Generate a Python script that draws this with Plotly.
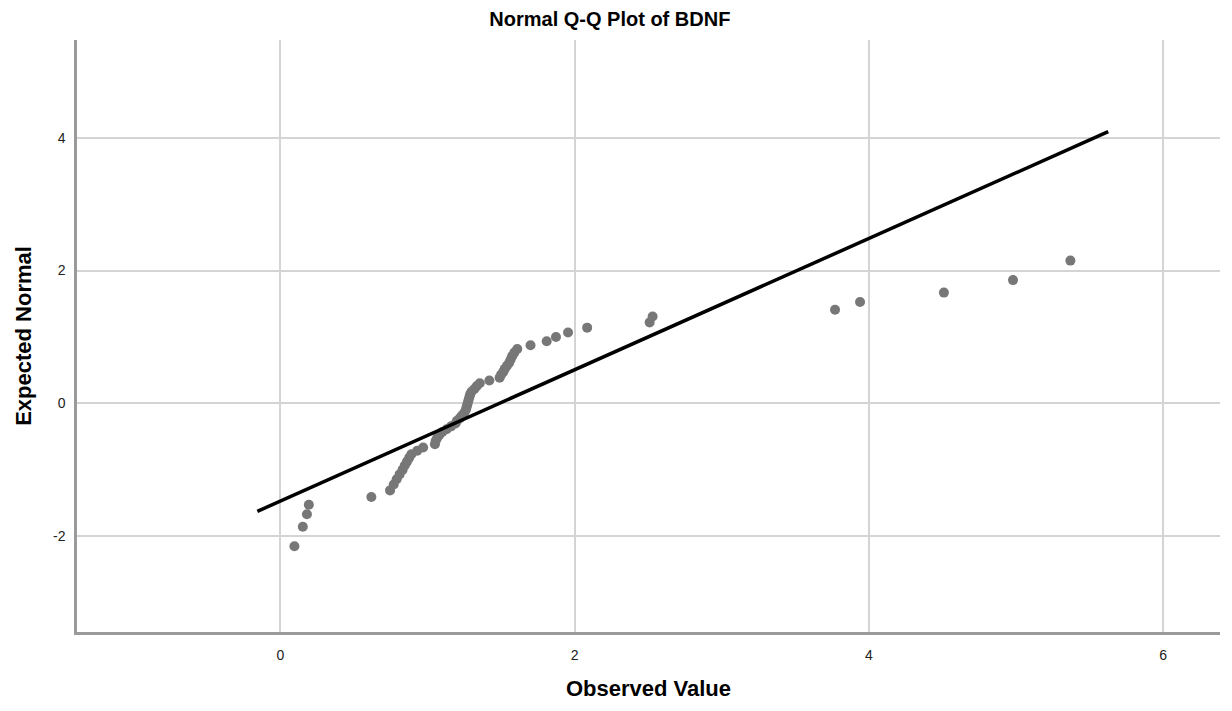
import plotly.graph_objects as go

observed = [0.095, 0.152, 0.18, 0.193, 0.618, 0.745, 0.77, 0.79, 0.81, 0.83,
            0.845, 0.86, 0.875, 0.89, 0.93, 0.97, 1.05, 1.055, 1.065, 1.08,
            1.10, 1.13, 1.16, 1.19, 1.20, 1.22, 1.235, 1.25, 1.26, 1.265,
            1.27, 1.275, 1.28, 1.285, 1.29, 1.30, 1.32, 1.335, 1.355, 1.42,
            1.49, 1.50, 1.515, 1.525, 1.54, 1.555, 1.565, 1.575, 1.59, 1.61,
            1.70, 1.81, 1.873, 1.955, 2.085, 2.51, 2.53, 3.77, 3.94, 4.51,
            4.98, 5.37]
expected = [-2.15, -1.856, -1.668, -1.526, -1.409, -1.309, -1.221, -1.141, -1.068, -1.0,
            -0.935, -0.876, -0.819, -0.765, -0.712, -0.662, -0.613, -0.566, -0.52, -0.475,
            -0.431, -0.388, -0.345, -0.303, -0.262, -0.221, -0.18, -0.14, -0.0996, -0.0597,
            -0.0199, 0.0199, 0.0597, 0.0996, 0.14, 0.18, 0.221, 0.262, 0.303, 0.345,
            0.388, 0.431, 0.475, 0.52, 0.566, 0.613, 0.662, 0.712, 0.765, 0.819,
            0.876, 0.935, 1.0, 1.068, 1.141, 1.22, 1.309, 1.409, 1.526, 1.668,
            1.856, 2.15]

line_x = [-0.157, 5.627]
line_y = [-1.624, 4.09]

x_ticks = [0, 2, 4, 6]
y_ticks = [-2, 0, 2, 4]

fig = go.Figure()
fig.add_trace(go.Scatter(x=observed, y=expected, mode="markers",
                         marker=dict(color="#777777", size=10, line=dict(width=0)),
                         showlegend=False))
fig.add_trace(go.Scatter(x=line_x, y=line_y, mode="lines",
                         line=dict(color="black", width=3.5), showlegend=False))

font_family = "Liberation Sans, Arial, sans-serif"
fig.update_layout(
    width=1232, height=711,
    margin=dict(l=77, r=12, t=40, b=79),
    paper_bgcolor="white", plot_bgcolor="white",
    font=dict(family=font_family, color="#222222"),
    title=dict(text="<b>Normal Q-Q Plot of BDNF</b>", x=0.495, xref="container",
               xanchor="center", y=0.973, yanchor="middle",
               font=dict(size=20, color="black", family=font_family)),
)
fig.update_xaxes(range=[-1.383, 6.387], tickvals=x_ticks, ticktext=[str(v) for v in x_ticks],
                 showgrid=True, gridcolor="#d4d4d4", gridwidth=1.5, zeroline=False,
                 showline=True, linecolor="#9a9a9a", linewidth=2.5, mirror=False,
                 ticks="", ticklabelstandoff=8,
                 tickfont=dict(size=14, color="#222222"),
                 title=dict(text="<b>Observed Value</b>", font=dict(size=22, color="black"), standoff=20))
fig.update_yaxes(range=[-3.44, 5.47], tickvals=y_ticks, ticktext=[str(v) for v in y_ticks],
                 showgrid=True, gridcolor="#d4d4d4", gridwidth=1.5, zeroline=False,
                 showline=True, linecolor="#9a9a9a", linewidth=2.5, mirror=False,
                 ticks="", ticklabelstandoff=6,
                 tickfont=dict(size=14, color="#222222"),
                 title=dict(text="<b>Expected Normal</b>", font=dict(size=22, color="black"), standoff=16))

fig.write_html("out.html")
